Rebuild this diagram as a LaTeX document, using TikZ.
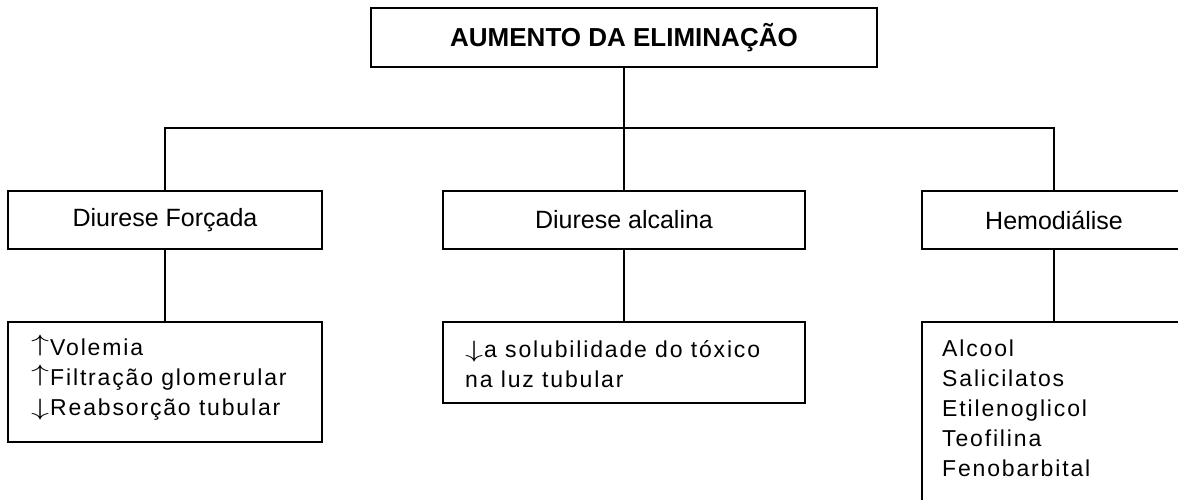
\documentclass[tikz,border=0pt]{standalone}
\usepackage{fontspec}
\setmainfont{Liberation Sans}
\newfontfamily\itemfont[LetterSpace=8]{Liberation Sans}
\newcommand\myup{\raisebox{3.6pt}{\scalebox{1.45}[0.95]{$\uparrow$}}\kern1pt}
\newcommand\mydown{\raisebox{-0.6pt}{\scalebox{1.45}[0.95]{$\downarrow$}}\kern1pt}
\begin{document}
\begin{tikzpicture}[x=1pt,y=-1pt,
  box/.style={draw, line width=1.6pt, inner sep=0pt, rectangle},
  lbl/.style={font=\fontsize{25}{30}\selectfont},
  item/.style={font=\itemfont\fontsize{23}{30}\selectfont, align=left, anchor=base west, inner sep=0pt},
  wire/.style={line width=1.6pt}]
\useasboundingbox (0,0) rectangle (1178,499);
\clip (0,0) rectangle (1178,499);
\fill[white] (0,0) rectangle (1178,499);

\node[box, minimum width=506pt, minimum height=59pt, font=\bfseries\fontsize{26}{30}\selectfont] (top) at (624,37.5) {AUMENTO DA ELIMINAÇÃO};

\node[box, lbl, minimum width=314pt, minimum height=58pt] (forc) at (165,220) {Diurese Forçada};
\node[box, lbl, minimum width=362pt, minimum height=58pt] (alc) at (624,220) {Diurese alcalina};
\node[box, lbl, minimum width=264pt, minimum height=58pt] (hemo) at (1054,220) {Hemodiálise};

\node[box, minimum width=314pt, minimum height=120pt] (forcbox) at (165,382) {};
\node[box, minimum width=362pt, minimum height=81pt] (alcbox) at (624,362.5) {};
\node[box, minimum width=264pt, minimum height=198pt] (hemobox) at (1054,421) {};

\node[item] (forctxt) at (31,415) {\myup Volemia\\\myup Filtração glomerular\\\mydown Reabsorção tubular};
\node[item] (alctxt) at (465,387) {\mydown a solubilidade do tóxico\\na luz tubular};
\node[item] (hemotxt) at (942,476) {Alcool\\Salicilatos\\Etilenoglicol\\Teofilina\\Fenobarbital};

\draw[wire] (top.south) -- (alc.north);
\draw[wire] (forc.north) -- ++(0,-62) -| (hemo.north);
\draw[wire] (forc.south) -- (forcbox.north);
\draw[wire] (alc.south) -- (alcbox.north);
\draw[wire] (hemo.south) -- (hemobox.north);
\end{tikzpicture}
\end{document}
